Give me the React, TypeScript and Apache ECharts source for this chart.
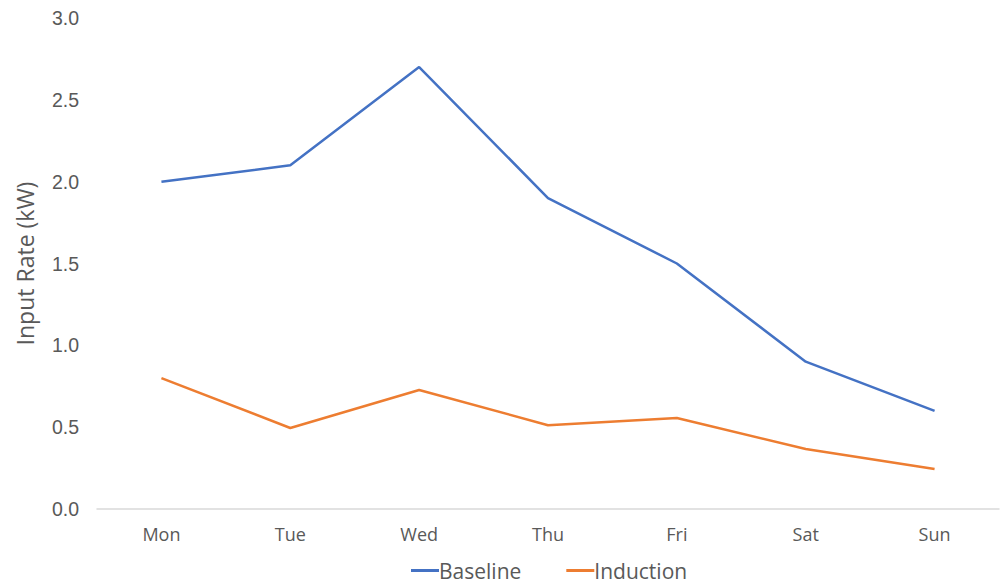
import React, { useEffect, useRef } from "react";
import * as echarts from "echarts";

const categories = ["Mon", "Tue", "Wed", "Thu", "Fri", "Sat", "Sun"];
const baseline = [2.0, 2.1, 2.7, 1.9, 1.5, 0.9, 0.6];
const induction = [0.8, 0.495, 0.727, 0.512, 0.556, 0.367, 0.244];

export default function App() {
  const ref = useRef<HTMLDivElement>(null);
  useEffect(() => {
    const chart = echarts.init(ref.current!, null, { renderer: "svg" });
    chart.setOption({
      animation: false,
      grid: { left: 97, right: 7, top: 18, bottom: 75, containLabel: false },
      legend: {
        bottom: -2,
        left: 406,
        itemWidth: 28,
        itemHeight: 3,
        itemGap: 45,
        icon: "rect",
        textStyle: { color: "#595959", fontSize: 21, fontFamily: "Open Sans", padding: [0, 0, 0, -5] },
        data: ["Baseline", "Induction"],
      },
      xAxis: {
        type: "category",
        data: categories,
        boundaryGap: true,
        axisLine: { lineStyle: { color: "#d9d9d9", width: 1.5 } },
        axisTick: { show: false },
        axisLabel: { color: "#595959", fontSize: 18, fontFamily: "Open Sans", margin: 16 },
      },
      yAxis: {
        type: "value",
        min: 0,
        max: 3,
        interval: 0.5,
        name: "Input Rate (kW)",
        nameLocation: "middle",
        nameGap: 61,
        nameTextStyle: { color: "#595959", fontSize: 23, fontFamily: "Open Sans" },
        splitLine: { show: false },
        axisLine: { show: false },
        axisTick: { show: false },
        axisLabel: {
          color: "#595959",
          fontSize: 19.5,
          fontFamily: "Liberation Sans",
          margin: 18,
          formatter: (v: number) => v.toFixed(1),
        },
      },
      series: [
        {
          name: "Baseline",
          type: "line",
          data: baseline,
          symbol: "none",
          lineStyle: { color: "#4472C4", width: 2.5 },
          itemStyle: { color: "#4472C4" },
        },
        {
          name: "Induction",
          type: "line",
          data: induction,
          symbol: "none",
          lineStyle: { color: "#ED7D31", width: 2.5 },
          itemStyle: { color: "#ED7D31" },
        },
      ],
    });
    return () => chart.dispose();
  }, []);
  return <div ref={ref} style={{ width: 1006, height: 584, position: "absolute", left: 0, top: 0 }} />;
}
